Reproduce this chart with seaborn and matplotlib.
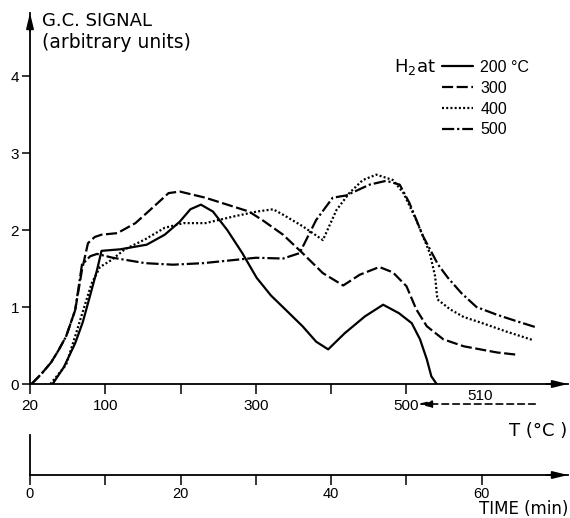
import numpy as np
import pandas as pd
import matplotlib
matplotlib.use("Agg")
import matplotlib.pyplot as plt
import seaborn as sns

# ---------------- data (x = time in min, y = G.C. signal) ----------------
t_200 = [3.0, 4.5, 6.0, 7.0, 7.9, 8.9, 9.5, 12.0, 15.5, 17.9, 19.9, 21.3, 22.7, 24.3,
         26.2, 28.2, 30.1, 32.0, 34.0, 36.2, 38.0, 39.6, 41.8, 44.5, 46.9, 49.0, 50.7,
         51.8, 52.7, 53.3, 54.0]
v_200 = [0.0, 0.22, 0.53, 0.80, 1.12, 1.48, 1.73, 1.75, 1.81, 1.94, 2.11, 2.27, 2.33, 2.24,
         2.00, 1.70, 1.38, 1.15, 0.96, 0.75, 0.55, 0.45, 0.66, 0.88, 1.03, 0.92, 0.79,
         0.58, 0.32, 0.10, 0.0]

t_300 = [0.2, 1.5, 2.8, 3.8, 4.8, 6.0, 6.9, 7.7, 8.6, 9.5, 11.6, 14.0, 16.5, 18.4, 19.9,
         23.3, 26.2, 29.1, 31.0, 33.6, 36.2, 38.9, 41.6, 43.8, 46.4, 48.2, 50.0, 51.3,
         52.7, 54.9, 57.6, 59.8, 62.0, 64.7]
v_300 = [0.0, 0.13, 0.28, 0.44, 0.62, 0.96, 1.48, 1.83, 1.91, 1.94, 1.96, 2.09, 2.31, 2.48, 2.50,
         2.42, 2.33, 2.24, 2.12, 1.94, 1.70, 1.44, 1.28, 1.42, 1.52, 1.45, 1.27, 0.97,
         0.75, 0.58, 0.49, 0.45, 0.41, 0.38]

t_400 = [2.7, 4.8, 6.0, 7.2, 8.2, 9.3, 10.8, 12.6, 15.3, 17.9, 20.4, 23.3, 27.2, 30.1,
         32.3, 33.6, 36.2, 38.9, 40.7, 42.4, 44.2, 46.0, 48.2, 49.6, 51.3, 53.1, 53.8,
         54.1, 55.8, 57.6, 59.8, 63.3, 66.8]
v_400 = [0.0, 0.25, 0.62, 1.0, 1.31, 1.52, 1.61, 1.75, 1.88, 2.03, 2.09, 2.09, 2.18, 2.24,
         2.27, 2.20, 2.05, 1.87, 2.26, 2.48, 2.65, 2.72, 2.65, 2.48, 2.13, 1.70, 1.40,
         1.10, 0.97, 0.87, 0.80, 0.68, 0.57]

t_500 = [0.2, 1.5, 2.8, 3.8, 4.8, 6.0, 6.9, 8.0, 8.9, 11.0, 15.3, 19.0, 23.0, 27.0, 30.0,
         33.6, 35.8, 38.0, 40.2, 42.0, 43.1, 45.1, 47.3, 49.1, 50.4, 52.2, 54.2, 55.5,
         57.3, 59.3, 62.0, 64.5, 67.1]
v_500 = [0.0, 0.13, 0.28, 0.44, 0.62, 0.96, 1.55, 1.66, 1.69, 1.64, 1.57, 1.55, 1.57, 1.61, 1.64,
         1.63, 1.70, 2.13, 2.42, 2.45, 2.50, 2.59, 2.64, 2.59, 2.35, 1.92, 1.55, 1.38,
         1.18, 1.00, 0.90, 0.82, 0.74]

series_labels = ["200 °C", "300", "400", "500"]
y_ticks = [0, 1, 2, 3, 4]
T_tick_pos = [0, 10, 20, 30, 40, 50]
T_tick_labels = ["20", "100", "", "300", "", "500"]
time_tick_pos = [0, 10, 20, 30, 40, 50, 60]
time_tick_labels = ["0", "", "20", "", "40", "", "60"]

# ---------------- style ----------------
sns.set_style("ticks")
plt.rcParams["font.family"] = ["Liberation Sans", "DejaVu Sans"]
plt.rcParams["mathtext.fontset"] = "custom"
plt.rcParams["mathtext.rm"] = "DejaVu Sans"
plt.rcParams["mathtext.it"] = "DejaVu Sans:italic"
for k in ("text.color", "xtick.color", "ytick.color", "axes.edgecolor", "axes.labelcolor"):
    plt.rcParams[k] = "black"

W, H = 570, 518
fig = plt.figure(figsize=(W / 100, H / 100), dpi=100)

def px_box(x0, y_top, x1, y_bot):
    return [x0 / W, 1 - y_bot / H, (x1 - x0) / W, (y_bot - y_top) / H]

ax = fig.add_axes(px_box(30, 13, 568, 384))
ax2 = fig.add_axes(px_box(30, 435, 568, 475))

frames = []
for lab, t, v in zip(series_labels, [t_200, t_300, t_400, t_500],
                     [v_200, v_300, v_400, v_500]):
    frames.append(pd.DataFrame({"t": t, "v": v, "series": lab}))
df = pd.concat(frames, ignore_index=True)

dash_map = {"200 °C": "", "300": (5, 1.6), "400": (0.9, 1.0), "500": (5.5, 1.3, 1, 1.3)}
sns.lineplot(data=df, x="t", y="v", style="series", style_order=series_labels,
             dashes=dash_map, color="black", lw=1.6, estimator=None, sort=False,
             legend=False, ax=ax)

XMAX = 71.45
ax.set_xlim(0, XMAX)
ax.set_ylim(0, 4.82)
for a in (ax, ax2):
    a.spines["top"].set_visible(False)
    a.spines["right"].set_visible(False)
    a.spines["left"].set_linewidth(1.3)
    a.spines["bottom"].set_linewidth(1.3)
    a.set_xlabel("")
    a.set_ylabel("")
    a.patch.set_alpha(0)

ax.set_yticks(y_ticks)
ax.set_yticklabels([str(v) for v in y_ticks], fontsize=11)
ax.tick_params(axis="y", direction="out", length=6, width=1.1, pad=2)
ax.set_xticks(T_tick_pos)
ax.set_xticklabels(T_tick_labels, fontsize=11)
ax.tick_params(axis="x", direction="out", length=7, width=1.1, pad=4)

ax2.set_xlim(0, XMAX)
ax2.set_ylim(0, 1)
ax2.set_yticks([])
ax2.set_xticks(time_tick_pos)
ax2.set_xticklabels(time_tick_labels, fontsize=10.5)
ax2.tick_params(axis="x", direction="out", length=7.5, width=1.1, pad=1)

# axis arrows
arrow_kw = dict(arrowstyle="-|>,head_length=0.9,head_width=0.22", color="black",
                lw=1.3, shrinkA=0, shrinkB=0)
ax.annotate("", xy=(1.0, 0), xytext=(0.96, 0), xycoords="axes fraction",
            arrowprops=arrow_kw, annotation_clip=False)
ax.annotate("", xy=(0, 1.0), xytext=(0, 0.95), xycoords="axes fraction",
            arrowprops=arrow_kw, annotation_clip=False)
ax2.annotate("", xy=(1.0, 0), xytext=(0.96, 0), xycoords="axes fraction",
             arrowprops=arrow_kw, annotation_clip=False)

# dashed return arrow "510 -> 500"
ax.annotate("", xy=(51.5, -0.26), xytext=(67.1, -0.26), xycoords="data",
            arrowprops=dict(arrowstyle="-|>,head_length=0.8,head_width=0.2",
                            color="black", lw=1.2, linestyle=(0, (4, 2.5)),
                            shrinkA=0, shrinkB=0),
            annotation_clip=False)
ax.text(59.8, -0.15, "510", fontsize=11, ha="center", va="center", clip_on=False)

# texts
dv = ["DejaVu Sans"]
fig.text(42 / W, 1 - 21.5 / H, "G.C. SIGNAL", fontsize=13, family=dv, ha="left", va="center")
fig.text(42 / W, 1 - 43 / H, "(arbitrary units)", fontsize=13.5, family=dv, ha="left", va="center")
fig.text(567 / W, 1 - 431 / H, "T (°C )", fontsize=13, family=dv, ha="right", va="center")
fig.text(568 / W, 1 - 514.5 / H, "TIME (min)", fontsize=12, family=dv, ha="right", va="baseline")
fig.text(436 / W, 1 - 72 / H, r"H$_{\mathrm{2}}$at", fontsize=13, family=dv, ha="right", va="baseline")

# legend
handles = ax.lines[:4]
leg = ax.legend(handles, series_labels, loc="upper left",
                bbox_to_anchor=(442 / W, 1 - 60 / H), bbox_transform=fig.transFigure,
                frameon=False, fontsize=11.5, handlelength=1.95, handletextpad=0.45,
                labelspacing=0.36, borderpad=0, borderaxespad=0)

fig.savefig("out.png", dpi=100)
